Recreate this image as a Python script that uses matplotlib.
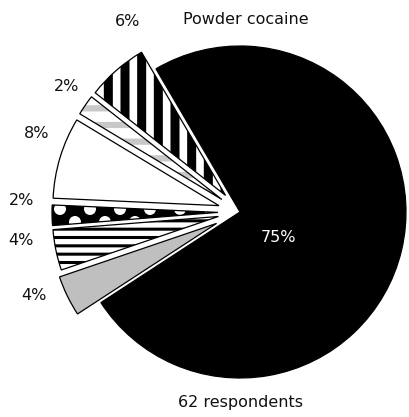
import numpy as np
import matplotlib
matplotlib.use('Agg')
from matplotlib import pyplot as plt
from matplotlib.patches import Wedge, Circle

# data (counter-clockwise from the top edge of the big slice)
shares = [6, 2, 8, 2, 4, 4, 75]
pct_labels = ['6%', '2%', '8%', '2%', '4%', '4%', '75%']
title = 'Powder cocaine'
footnote = '62 respondents'

# styling per slice
faces = ['white', 'white', 'white', 'black', 'white', '#bfbfbf', 'black']
hatches = ['|', '-', None, None, '--', None, None]
hatch_cols = ['black', '#c8c8c8', 'black', 'black', 'black', 'black', 'black']
hatch_lws = [6.5, 4.5, 1, 1, 2.2, 1, 1]
# explode offsets in pixels (pie explode is in data units here)
explode = [22, 22, 22, 22, 22, 26, 0]

# label placement in pixels (x, y from top)
label_px = [(128, 21), (67, 86), (37, 133), (22, 200), (21, 240), (34, 295), (279, 237)]

W, H = 409, 417
fig = plt.figure(figsize=(W / 100, H / 100), dpi=100)
ax = fig.add_axes([0, 0, 1, 1])

cx, cy, R = 240, H - 212, 166
wedges, _ = ax.pie(shares, explode=explode, startangle=120.4, counterclock=True,
                   radius=R, center=(cx, cy), colors=faces,
                   wedgeprops=dict(linewidth=0))

for i, w in enumerate(wedges):
  if hatches[i]:
    w.set_hatch(hatches[i])
    w.set_edgecolor(hatch_cols[i])
    if hasattr(w, 'set_hatch_linewidth'):
      w.set_hatch_linewidth(hatch_lws[i])
  outline = Wedge(w.center, w.r, w.theta1, w.theta2, fill=False,
                  edgecolor='black', linewidth=0.9, zorder=3)
  ax.add_patch(outline)

# white dots on the black 2% slice
dw = wedges[3]
for gx in np.arange(0, 409, 30):
  for k, gy in enumerate(np.arange(0, 417, 13)):
    c = Circle((gx + (15 if k % 2 else 0), gy), 6, facecolor='white',
               edgecolor='none', zorder=2)
    ax.add_patch(c)
    c.set_clip_path(dw)

for i, (px, py) in enumerate(label_px):
  ax.text(px, H - py, pct_labels[i], ha='center', va='center', fontsize=11.5,
          color='white' if i == 6 else '#111111')

ax.text(246, H - 19, title, ha='center', va='center', fontsize=11.5, color='#111111')
ax.text(240, H - 403, footnote, ha='center', va='center', fontsize=11.5, color='#111111')

ax.set_xlim(0, W)
ax.set_ylim(0, H)
ax.set_aspect('equal')
ax.axis('off')
fig.savefig('out.png', dpi=100)
